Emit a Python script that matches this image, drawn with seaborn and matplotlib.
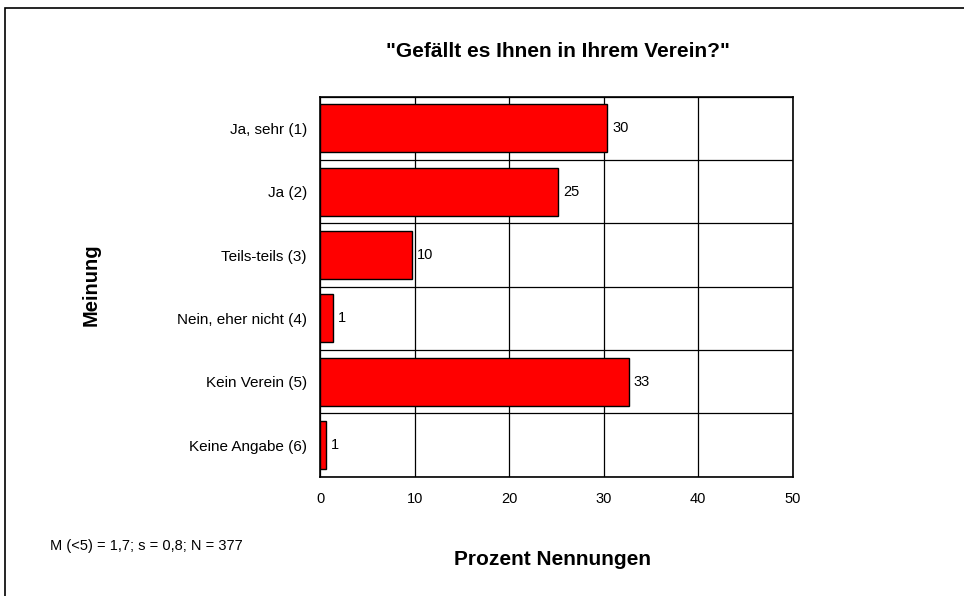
import numpy as np
import pandas as pd
import seaborn as sns
import matplotlib.pyplot as plt
from matplotlib.patches import Rectangle

categories = ['Ja, sehr (1)', 'Ja (2)', 'Teils-teils (3)', 'Nein, eher nicht (4)',
              'Kein Verein (5)', 'Keine Angabe (6)']
prozent = [30.4, 25.2, 9.7, 1.4, 32.7, 0.6]
x_ticks = [0, 10, 20, 30, 40, 50]

sns.set_style('white')
plt.rcParams['font.family'] = ['Liberation Sans', 'DejaVu Sans']
plt.rcParams['text.color'] = 'black'
plt.rcParams['xtick.color'] = 'black'
plt.rcParams['ytick.color'] = 'black'

df = pd.DataFrame({'Meinung': categories, 'Prozent': prozent})

fig = plt.figure(figsize=(9.64, 5.96), dpi=100)
ax = fig.add_axes([0.332, 0.2002, 0.4903, 0.6376])

sns.barplot(data=df, x='Prozent', y='Meinung', orient='h', color='#ff0000',
            saturation=1, edgecolor='black', linewidth=1, width=0.76, ax=ax)

ax.set_xlim(0, 50)
ax.set_ylim(len(categories) - 0.5, -0.5)
ax.set_xticks(x_ticks)
ax.set_xticklabels([str(t) for t in x_ticks], fontsize=10.5)
ax.set_yticks(range(len(categories)))
ax.set_yticklabels(categories, fontsize=11)
ax.set_yticks(np.arange(-0.5, len(categories), 1), minor=True)
ax.tick_params(axis='y', which='major', length=0, pad=9.5)
ax.tick_params(axis='y', which='minor', length=4, width=1, color='black', direction='out')
ax.tick_params(axis='x', which='major', length=4, width=1, color='black', direction='out', pad=7)
ax.grid(axis='x', which='major', color='black', linewidth=0.9)
ax.grid(axis='y', which='minor', color='black', linewidth=0.9)
ax.set_axisbelow(True)
for sp in ax.spines.values():
    sp.set_visible(True)
    sp.set_color('black')
    sp.set_linewidth(1.2)

ax.set_xlabel('')
ax.set_ylabel('')

for i, v in enumerate(prozent):
    ax.text(v + 0.5, i, f'{round(v):d}', va='center', ha='left', fontsize=10.5)

fig.text(0.579, 0.913, '"Gefällt es Ihnen in Ihrem Verein?"', ha='center', va='center',
         fontsize=15, fontweight='bold')
fig.text(0.573, 0.062, 'Prozent Nennungen', ha='center', va='center',
         fontsize=15, fontweight='bold')
fig.text(0.095, 0.522, 'Meinung', ha='center', va='center', rotation=90,
         fontsize=14.5, fontweight='bold')
fig.text(0.052, 0.084, 'M (<5) = 1,7; s = 0,8; N = 377', ha='left', va='center', fontsize=10.5)

fig.patches.append(Rectangle((5 / 964, -0.1), 1.2, 1.1 - 8 / 596,
                             transform=fig.transFigure, fill=False,
                             edgecolor='black', linewidth=1.2))

fig.savefig('out.png', dpi=100)
